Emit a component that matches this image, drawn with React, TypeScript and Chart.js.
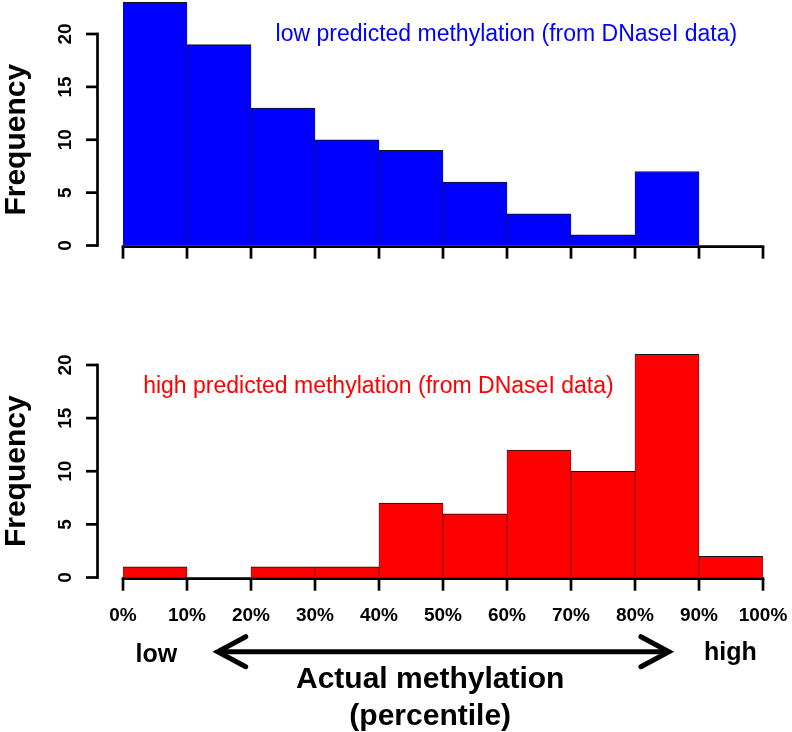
import React, { useEffect, useRef } from "react";
import { Chart, registerables } from "chart.js";

Chart.register(...registerables);

// ---- data ----
const binCenters = [5, 15, 25, 35, 45, 55, 65, 75, 85, 95];
const lowPredictedCounts = [23, 19, 13, 10, 9, 6, 3, 1, 7, 0];
const highPredictedCounts = [1, 0, 1, 1, 7, 6, 12, 10, 21, 2];
const xTickValues = [0, 10, 20, 30, 40, 50, 60, 70, 80, 90, 100];
const xTickLabels = ["0%", "10%", "20%", "30%", "40%", "50%", "60%", "70%", "80%", "90%", "100%"];
const yTickValues = [0, 5, 10, 15, 20];
const yTickLabels = ["0", "5", "10", "15", "20"];

const FONT = '"Liberation Sans", Arial, Helvetica, sans-serif';

type PanelOpts = {
  note: string;
  noteColor: string;
  noteCenterValue: number;
  noteBaseline: number;
  footer: boolean;
};

function makeAxesPlugin(o: PanelOpts) {
  return {
    id: "rAxes",
    afterDraw(chart: any) {
      const ctx = chart.ctx as CanvasRenderingContext2D;
      const xs = chart.scales.x;
      const ys = chart.scales.y;
      ctx.save();
      ctx.strokeStyle = "#000";
      ctx.fillStyle = "#000";
      ctx.lineWidth = 2.7;
      ctx.lineCap = "butt";

      // y axis
      const yAxisX = 97.5;
      const yTop = ys.getPixelForValue(yTickValues[yTickValues.length - 1]);
      const yBot = ys.getPixelForValue(yTickValues[0]);
      ctx.beginPath();
      ctx.moveTo(yAxisX, yBot + 1.35);
      ctx.lineTo(yAxisX, yTop - 1.35);
      ctx.stroke();
      yTickValues.forEach((v, i) => {
        const py = ys.getPixelForValue(v);
        ctx.beginPath();
        ctx.moveTo(86, py);
        ctx.lineTo(yAxisX, py);
        ctx.stroke();
        ctx.save();
        ctx.translate(71, py);
        ctx.rotate(-Math.PI / 2);
        ctx.font = `bold 19px ${FONT}`;
        ctx.textAlign = "center";
        ctx.textBaseline = "alphabetic";
        ctx.fillText(yTickLabels[i], 0, 0);
        ctx.restore();
      });

      // y title
      ctx.save();
      ctx.translate(25, (yTop + yBot) / 2);
      ctx.rotate(-Math.PI / 2);
      ctx.font = `bold 30px ${FONT}`;
      ctx.textAlign = "center";
      ctx.fillText("Frequency", 0, 0);
      ctx.restore();

      // x axis
      const ay = ys.getPixelForValue(0) + 1.2;
      ctx.beginPath();
      ctx.moveTo(xs.getPixelForValue(xTickValues[0]) - 1.35, ay);
      ctx.lineTo(xs.getPixelForValue(xTickValues[xTickValues.length - 1]) + 1.35, ay);
      ctx.stroke();
      xTickValues.forEach((v, i) => {
        const px = xs.getPixelForValue(v);
        ctx.beginPath();
        ctx.moveTo(px, ay);
        ctx.lineTo(px, ay + 12);
        ctx.stroke();
        if (o.footer) {
          ctx.font = `bold 19px ${FONT}`;
          ctx.textAlign = "center";
          ctx.fillText(xTickLabels[i], px, ay + 42);
        }
      });

      // note inside panel
      ctx.font = `23px ${FONT}`;
      ctx.fillStyle = o.noteColor;
      ctx.textAlign = "center";
      ctx.fillText(o.note, xs.getPixelForValue(o.noteCenterValue), o.noteBaseline);

      if (o.footer) {
        ctx.fillStyle = "#000";
        ctx.strokeStyle = "#000";
        ctx.font = `bold 25px ${FONT}`;
        ctx.fillText("low", xs.getPixelForValue(5.2), ay + 83);
        ctx.fillText("high", xs.getPixelForValue(94.9), ay + 81);

        // double-headed arrow
        const ax1 = xs.getPixelForValue(14.8);
        const ax2 = xs.getPixelForValue(85.3);
        const arY = ay + 73;
        ctx.lineWidth = 5;
        ctx.lineCap = "round";
        ctx.lineJoin = "miter";
        ctx.beginPath();
        ctx.moveTo(ax1 + 2, arY);
        ctx.lineTo(ax2 - 2, arY);
        ctx.stroke();
        ctx.beginPath();
        ctx.moveTo(ax1 + 28, arY - 15);
        ctx.lineTo(ax1, arY);
        ctx.lineTo(ax1 + 28, arY + 15);
        ctx.stroke();
        ctx.beginPath();
        ctx.moveTo(ax2 - 28, arY - 15);
        ctx.lineTo(ax2, arY);
        ctx.lineTo(ax2 - 28, arY + 15);
        ctx.stroke();

        ctx.font = `bold 30px ${FONT}`;
        const cx = xs.getPixelForValue(48.0);
        ctx.fillText("Actual methylation", cx, ay + 109);
        ctx.fillText("(percentile)", cx, ay + 146);
      }
      ctx.restore();
    },
  };
}

function makeConfig(counts: number[], color: string, yMax: number, padBottom: number, opts: PanelOpts) {
  return {
    type: "bar" as const,
    data: {
      datasets: [
        {
          data: binCenters.map((c, i) => ({ x: c, y: counts[i] })),
          backgroundColor: color,
          borderColor: "#141414",
          borderWidth: { top: 1, left: 0.6, right: 0.6, bottom: 0 },
          borderSkipped: false as const,
          barPercentage: 1,
          categoryPercentage: 1,
        },
      ],
    },
    options: {
      animation: false as const,
      responsive: false,
      devicePixelRatio: 1,
      layout: { padding: { left: 123, right: 29, top: 0, bottom: padBottom } },
      plugins: { legend: { display: false }, tooltip: { enabled: false } },
      scales: {
        x: { type: "linear" as const, min: 0, max: 100, offset: false, display: false },
        y: { type: "linear" as const, min: 0, max: yMax, display: false },
      },
    },
    plugins: [makeAxesPlugin(opts)],
  };
}

export default function App() {
  const topRef = useRef<HTMLCanvasElement>(null);
  const botRef = useRef<HTMLCanvasElement>(null);

  useEffect(() => {
    const top = new Chart(
      topRef.current as HTMLCanvasElement,
      makeConfig(lowPredictedCounts, "#0000ff", 245.5 / 10.575, 292 - 245.5, {
        note: "low predicted methylation (from DNaseI data)",
        noteColor: "#0000ff",
        noteCenterValue: 59.9,
        noteBaseline: 41,
        footer: false,
      }) as any
    );
    const bot = new Chart(
      botRef.current as HTMLCanvasElement,
      makeConfig(highPredictedCounts, "#ff0000", 285.5 / 10.625, 440 - 285.5, {
        note: "high predicted methylation (from DNaseI data)",
        noteColor: "#ff0000",
        noteCenterValue: 39.9,
        noteBaseline: 100.5,
        footer: true,
      }) as any
    );
    return () => {
      top.destroy();
      bot.destroy();
    };
  }, []);

  return (
    <div style={{ position: "fixed", left: 0, top: 0, width: 792, height: 732, background: "#fff" }}>
      <canvas ref={topRef} width={792} height={292} style={{ position: "absolute", left: 0, top: 0, width: 792, height: 292 }} />
      <canvas ref={botRef} width={792} height={440} style={{ position: "absolute", left: 0, top: 292, width: 792, height: 440 }} />
    </div>
  );
}
